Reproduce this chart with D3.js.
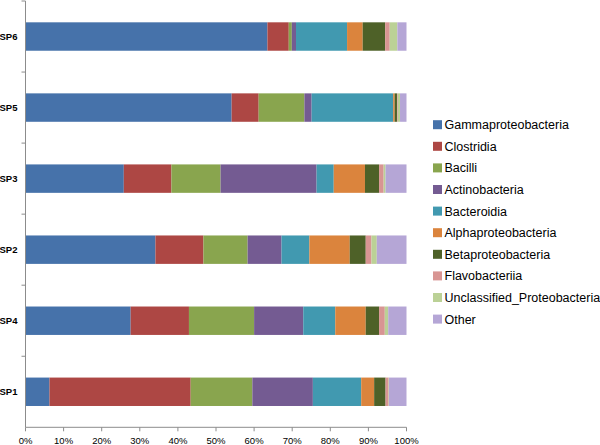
<!DOCTYPE html>
<html><head><meta charset="utf-8">
<script src="https://cdn.jsdelivr.net/npm/d3@7"></script>
<style>body{margin:0;background:#fff}svg{display:block}</style>
</head><body>
<svg id="c" width="600" height="445"></svg>
<script>
const samples = ["SP6","SP5","SP3","SP2","SP4","SP1"];
const classes = ["Gammaproteobacteria","Clostridia","Bacilli","Actinobacteria","Bacteroidia","Alphaproteobacteria","Betaproteobacteria","Flavobacteriia","Unclassified_Proteobacteria","Other"];
const gamma   = [63.5, 54.1, 25.8, 34.1, 27.6, 6.3];
const clostr  = [5.6, 7.1, 12.5, 12.6, 15.3, 37.1];
const bacilli = [0.8, 12.0, 12.9, 11.6, 17.1, 16.2];
const actino  = [1.1, 1.9, 25.2, 8.9, 12.9, 15.9];
const bactero = [13.4, 21.4, 4.5, 7.3, 8.4, 12.7];
const alpha   = [4.1, 0.4, 8.2, 10.6, 8.0, 3.4];
const beta    = [5.9, 0.6, 3.7, 4.2, 3.5, 3.0];
const flavo   = [1.2, 0.2, 1.2, 1.5, 1.5, 0.8];
const unclass = [2.0, 0.6, 0.5, 1.4, 0.9, 0.1];
const other   = [2.4, 1.7, 5.5, 7.8, 4.8, 4.6];
const xTicks = [0,10,20,30,40,50,60,70,80,90,100];
const colors = ["#4672AA","#AD4744","#89A54E","#745B92","#4199B0","#DB843D","#4E6128","#D89593","#BBD196","#B5A6D6"];

const series = [gamma,clostr,bacilli,actino,bactero,alpha,beta,flavo,unclass,other];
const rows = samples.map((s,i)=>{const r={sample:s}; classes.forEach((c,k)=>r[c]=series[k][i]); return r;});
const stack = d3.stack().keys(classes).offset(d3.stackOffsetExpand)(rows);

const svg = d3.select("#c");
const L=25.5, R=406.5, T=1, B=427.3;
const x = d3.scaleLinear().domain([0,1]).range([L,R]);
const y = d3.scaleBand().domain(samples).range([T,B]).paddingInner(0.6).paddingOuter(0.3);
const yb = d3.scaleBand().domain(samples).range([T,B]);
const color = d3.scaleOrdinal().domain(classes).range(colors);

svg.append("g").selectAll("g").data(stack).join("g").attr("fill",d=>color(d.key))
  .selectAll("rect").data(d=>d).join("rect")
  .attr("x",d=>x(d[0])).attr("width",d=>Math.max(0,x(d[1])-x(d[0])))
  .attr("y",d=>y(d.data.sample)).attr("height",y.bandwidth());

// axes
const ax = svg.append("g").attr("stroke","#8c8c8c").attr("stroke-width",1);
ax.append("line").attr("x1",L).attr("x2",L).attr("y1",T).attr("y2",B);
ax.append("line").attr("x1",L).attr("x2",R).attr("y1",B).attr("y2",B);
const bounds = samples.map(s=>yb(s));
ax.selectAll(".yt").data(bounds).join("line").attr("x1",L-4).attr("x2",L).attr("y1",d=>d).attr("y2",d=>d);
ax.selectAll(".xt").data(xTicks).join("line").attr("x1",d=>x(d/100)).attr("x2",d=>x(d/100)).attr("y1",B).attr("y2",B+4);

svg.append("g").selectAll("text").data(samples).join("text")
  .attr("x",17.5).attr("y",d=>y(d)+y.bandwidth()/2).attr("dy","0.35em")
  .attr("text-anchor","end").attr("font-family","Liberation Sans, Arial, sans-serif")
  .attr("font-size",9.5).attr("font-weight","bold").attr("fill","#000").text(d=>d);

svg.append("g").selectAll("text").data(xTicks).join("text")
  .attr("x",d=>x(d/100)).attr("y",441).attr("dy","0.35em").attr("text-anchor","middle")
  .attr("font-family","Liberation Sans, Arial, sans-serif").attr("font-size",9.5).attr("fill","#000")
  .text(d=>d+"%");

const lg = svg.append("g").selectAll("g").data(classes).join("g")
  .attr("transform",(d,i)=>`translate(433,${124.7+i*21.6})`);
lg.append("rect").attr("x",0).attr("y",-4.5).attr("width",9).attr("height",9).attr("fill",d=>color(d));
lg.append("text").attr("x",11.5).attr("y",0).attr("dy","0.36em")
  .attr("font-family","Liberation Sans, Arial, sans-serif").attr("font-size",12.5).attr("fill","#000").text(d=>d);
</script>
</body></html>
